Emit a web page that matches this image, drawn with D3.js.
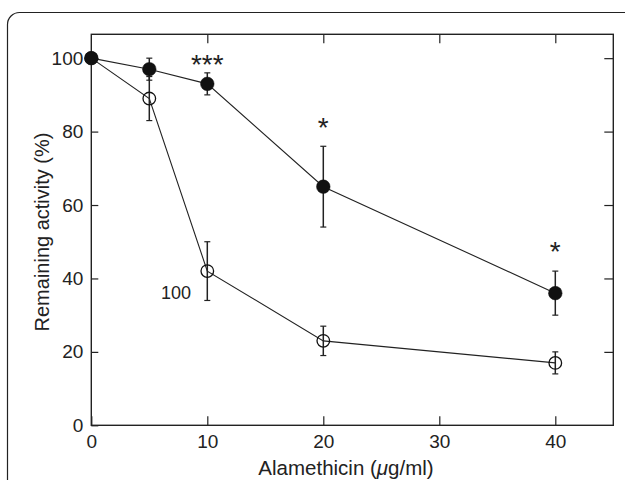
<!DOCTYPE html>
<html>
<head>
<meta charset="utf-8">
<script src="https://cdn.jsdelivr.net/npm/d3@7"></script>
<style>
  body { margin: 0; background: #fff; }
  svg text { font-family: "Liberation Sans", Arial, Helvetica, sans-serif; fill: #222; }
</style>
</head>
<body>
<svg></svg>
<script>
const size = {w: 625, h: 480};
const margin = {t: 34.3, r: 11.7, b: 54.7, l: 91.3};

// concentrations (ug/ml)
const conc = [0, 5, 10, 20, 40];
// filled circles
const filledMean = [100, 97, 93, 65, 36];
const filledErr = [0, 3, 3, 11, 6];
// open circles
const openMean = [100, 89, 42, 23, 17];
const openErr = [0, 6, 8, 4, 3];

const xTicks = [0, 10, 20, 30, 40];
const yTicks = [0, 20, 40, 60, 80, 100];

// significance marks and the "100" note
const notes = [
    {x: 10, y: 100, text: '***'},
    {x: 20, y: 83, text: '*'},
    {x: 40, y: 49, text: '*'}
];
const doseNote = {x: 7.3, y: 36, text: '100'};

const svg = d3.select('svg')
    .attr('width', size.w)
    .attr('height', size.h);

// card frame
svg.append('rect')
    .attr('x', 7.5).attr('y', 12.5)
    .attr('width', 640).attr('height', 500)
    .attr('rx', 12)
    .attr('fill', 'none')
    .attr('stroke', '#222')
    .attr('stroke-width', 1.2);

const w = size.w - margin.l - margin.r,
    h = size.h - margin.t - margin.b;

const x = d3.scaleLinear().domain([0, 45]).range([0, w]);
const y = d3.scaleLinear().domain([0, 106.5]).range([h, 0]);

const g = svg.append('g')
    .attr('transform', 'translate(' + margin.l + ',' + margin.t + ')');

// ticks on all four sides, pointing in
g.append('g')
    .attr('transform', 'translate(0,' + h + ')')
    .call(d3.axisBottom(x).tickValues(xTicks).tickSize(-9).tickPadding(9));
g.append('g')
    .call(d3.axisTop(x).tickValues(xTicks.slice(1)).tickSize(-9).tickFormat(''));
g.append('g')
    .call(d3.axisLeft(y).tickValues(yTicks).tickSize(-7).tickPadding(8));
g.append('g')
    .attr('transform', 'translate(' + w + ',0)')
    .call(d3.axisRight(y).tickValues(yTicks.slice(1)).tickSize(-9).tickFormat(''));

g.selectAll('.domain').remove();
g.selectAll('.tick line').attr('stroke', '#222').attr('stroke-width', 1.2);
g.selectAll('.tick text')
    .attr('font-size', 19)
    .attr('fill', '#222');

// frame of the plot
g.append('rect')
    .attr('width', w).attr('height', h)
    .attr('fill', 'none')
    .attr('stroke', '#222')
    .attr('stroke-width', 1.4);

const line = d3.line()
    .x((d, i) => x(conc[i]))
    .y(d => y(d));

function drawSeries(means, errs, filled) {
    let s = g.append('g');
    s.append('path')
        .attr('d', line(means))
        .attr('fill', 'none')
        .attr('stroke', '#222')
        .attr('stroke-width', 1.1);

    means.forEach(function (m, i) {
        if (errs[i] > 0) {
            let cx = x(conc[i]);
            let y1 = y(m + errs[i]), y2 = y(m - errs[i]);
            s.append('line')
                .attr('x1', cx).attr('x2', cx).attr('y1', y1).attr('y2', y2)
                .attr('stroke', '#222').attr('stroke-width', 1.5);
            [y1, y2].forEach(function (yy) {
                s.append('line')
                    .attr('x1', cx - 3).attr('x2', cx + 3).attr('y1', yy).attr('y2', yy)
                    .attr('stroke', '#222').attr('stroke-width', 1.2);
            });
        }
    });

    s.selectAll('circle')
        .data(means)
        .enter()
        .append('circle')
        .attr('cx', (d, i) => x(conc[i]))
        .attr('cy', d => y(d))
        .attr('r', filled ? 6.8 : 6.3)
        .attr('fill', filled ? '#111' : '#fff')
        .attr('fill-opacity', filled ? 1 : 0)
        .attr('stroke', '#111')
        .attr('stroke-width', filled ? 0.5 : 1.3);
}

drawSeries(openMean, openErr, false);
drawSeries(filledMean, filledErr, true);

// asterisks: glyph sits high in the em box, so push the baseline down
g.selectAll('.note')
    .data(notes)
    .enter()
    .append('text')
    .attr('x', d => x(d.x))
    .attr('y', d => y(d.y))
    .attr('text-anchor', 'middle')
    .attr('dy', '0.57em')
    .attr('font-size', 28)
    .text(d => d.text);

g.append('text')
    .attr('x', x(doseNote.x))
    .attr('y', y(doseNote.y))
    .attr('text-anchor', 'middle')
    .attr('dy', '0.35em')
    .attr('font-size', 18)
    .text(doseNote.text);

// axis titles
svg.append('text')
    .attr('x', 346)
    .attr('y', 475)
    .attr('text-anchor', 'middle')
    .attr('font-size', 20.5)
    .html('Alamethicin (<tspan font-style="italic">μ</tspan>g/ml)');

svg.append('text')
    .attr('transform', 'translate(49,232) rotate(-90)')
    .attr('text-anchor', 'middle')
    .attr('font-size', 20)
    .text('Remaining activity (%)');
</script>
</body>
</html>
